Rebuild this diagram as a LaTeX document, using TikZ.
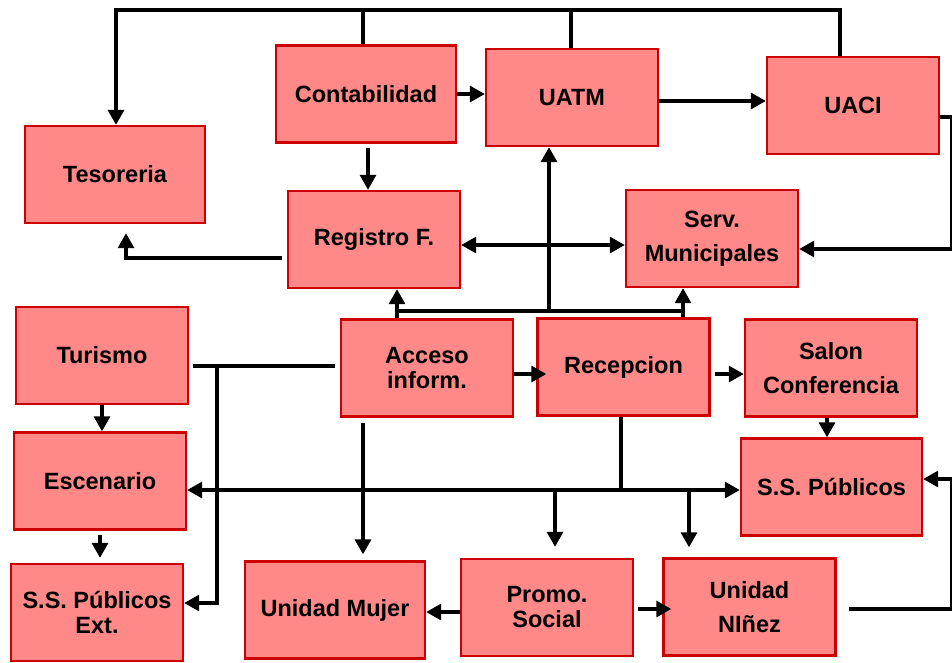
\documentclass[tikz,border=0pt]{standalone}
\usepackage{fontspec}
\setmainfont{Liberation Sans}
\usetikzlibrary{arrows.meta,calc}
\definecolor{boxfill}{HTML}{FF8888}
\definecolor{boxline}{HTML}{CC0000}
\begin{document}
\begin{tikzpicture}[x=1pt,y=-1pt,
 box/.style={draw=boxline, fill=boxfill, line width=2.4pt, minimum width=172pt, minimum height=97pt, inner sep=0pt, align=center, font=\fontsize{23.5}{25}\selectfont\bfseries, text=black},
 wide/.style={minimum width=180pt},
 tall/.style={font=\fontsize{23.5}{34}\selectfont\bfseries},
 conn/.style={line width=3.2pt},
 arr/.style={conn,-{Triangle[length=15pt,width=16pt]}},
 arr2/.style={conn,{Triangle[length=15pt,width=16pt]}-{Triangle[length=15pt,width=16pt]}}]
\useasboundingbox[fill=white] (0,0) rectangle (952,662);

\node[box,wide] (cont) at (366,94) {Contabilidad};
\node[box] (uatm) at (572,97.5) {UATM};
\node[box] (uaci) at (853,105.5) {UACI};
\node[box,wide] (tes) at (115,174.5) {Tesoreria};
\node[box] (reg) at (374,239.5) {Registro F.};
\node[box,tall] (serv) at (712,238.5) {Serv.\\Municipales};
\node[box] (tur) at (102,355.5) {Turismo};
\node[box] (acc) at (427,368) {Acceso\\inform.};
\node[box] (rec) at (623.5,367) {Recepcion};
\node[box,tall] (salon) at (831,368) {Salon\\Conferencia};
\node[box] (esc) at (100,481) {Escenario};
\node[box,minimum width=181pt] (ssp) at (831.5,487) {S.S. Públicos};
\node[box] (sspe) at (97,612.5) {S.S. Públicos\\Ext.};
\node[box,wide] (muj) at (335,610) {Unidad Mujer};
\node[box] (promo) at (547,607.5) {Promo.\\Social};
\node[box,tall] (nin) at (749.5,607) {Unidad\\NIñez};

% top bus
\coordinate (t0) at (116,10);
\path ($(cont.north)+(-3,0)$) coordinate (cn)
      ($(uatm.north)+(-1,0)$) coordinate (un)
      ($(uaci.north)+(-13,0)$) coordinate (an);
\draw[arr] (an) |- (t0) -- (t0 |- tes.north);
\draw[conn] (cn) -- (cn |- t0);
\draw[conn] (un) -- (un |- t0);

\draw[arr] (cont.east) -- (cont.east -| uatm.west);
\path ($(cont.south)+(2,4)$) coordinate (cs);
\draw[arr] (cs) -- (cs |- reg.north);
\path ($(uatm.east)+(0,3.5)$) coordinate (ue);
\draw[arr] (ue) -- (ue -| uaci.west);
\path ($(uaci.east)+(0,11.5)$) coordinate (ae) ($(serv.east)+(0,10.5)$) coordinate (se);
\draw[arr] (ae) -- ++(11,0) |- (se);
\path ($(reg.west)+(-5,18.5)$) coordinate (rw) ($(tes.south)+(11,9)$) coordinate (ts);
\draw[arr] (rw) -| (ts);
\path ($(reg.east)+(0,5.5)$) coordinate (re);
\draw[arr2] (re) -- (re -| serv.west);

% hub above Acceso / Recepcion
\coordinate (h1) at (397,311);
\coordinate (h2) at (683,311);
\coordinate (h3) at (549,311);
\draw[conn] (h1) -- (h2);
\draw[arr] (acc.north -| h1) -- (h1 |- reg.south);
\draw[arr] (rec.north -| h2) -- (h2 |- serv.south);
\draw[arr] (h3) -- (h3 |- uatm.south);

\path ($(acc.east)+(0,6)$) coordinate (ae2) ($(rec.west)+(10,0)$) coordinate (rw2);
\draw[arr] (ae2) -- (ae2 -| rw2);
\path ($(rec.east)+(4,7)$) coordinate (re2);
\draw[arr] (re2) -- (re2 -| salon.west);

% left side
\path ($(acc.west)+(-5,-2)$) coordinate (aw) ($(tur.east)+(4,0)$) coordinate (te);
\draw[conn] (aw) -- (aw -| te);
\coordinate (v1) at (217,366);
\path ($(sspe.east)+(0,-9.5)$) coordinate (spe);
\draw[arr] (v1) |- (spe);
\draw[arr] (tur.south) -- (tur.south |- esc.north);
\path ($(esc.south)+(0,4)$) coordinate (es) ($(sspe.north)+(0,-5)$) coordinate (sn);
\draw[arr] (es) -- (es |- sn);

% lower bus
\path ($(esc.east)+(0,9)$) coordinate (ee);
\coordinate (b1) at (621,490);
\coordinate (b2) at (555,490);
\coordinate (b3) at (689,490);
\draw[arr2] (ee) -- (ee -| ssp.west);
\draw[conn] (rec.south -| b1) -- (b1);
\path ($(promo.north)+(0,-11)$) coordinate (pn) ($(nin.north)+(0,-10)$) coordinate (nn);
\draw[arr] (b2) -- (b2 |- pn);
\draw[arr] (b3) -- (b3 |- nn);

\coordinate (a1) at (363,423);
\path ($(muj.north)+(0,-6)$) coordinate (mn);
\draw[arr] (a1) -- (a1 |- mn);
\path ($(promo.west)+(0,4.5)$) coordinate (pw);
\draw[arr] (pw) -- (pw -| muj.east);
\path ($(promo.east)+(4,1.5)$) coordinate (pe) ($(nin.west)+(9,0)$) coordinate (nw);
\draw[arr] (pe) -- (pe -| nw);
\path ($(nin.east)+(12,2)$) coordinate (ne) ($(ssp.east)+(0,-8)$) coordinate (sse);
\draw[arr] (ne) -- ++(103,0) |- (sse);
\path ($(salon.south)+(-4,0)$) coordinate (ss);
\draw[arr] (ss) -- (ss |- ssp.north);
\end{tikzpicture}
\end{document}
